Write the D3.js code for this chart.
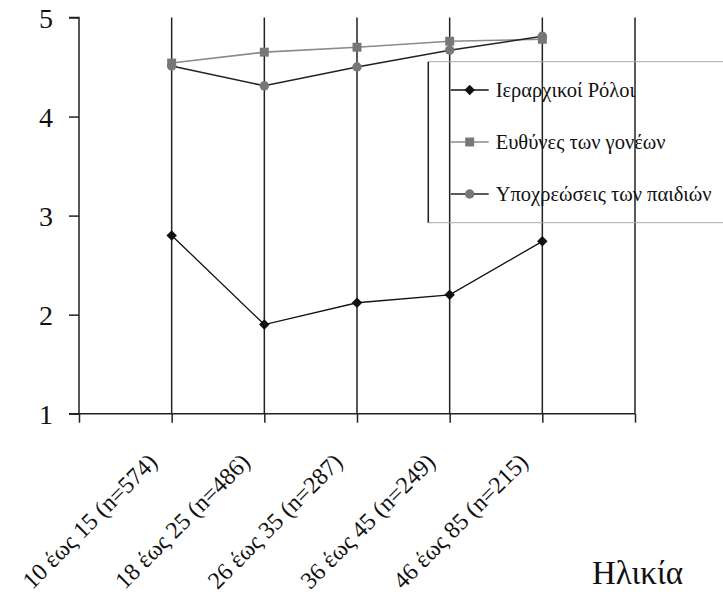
<!DOCTYPE html>
<html>
<head>
<meta charset="utf-8">
<script src="https://cdn.jsdelivr.net/npm/d3@7"></script>
</head>
<body style="margin:0;background:#fff">
<svg id="chart" width="723" height="597" style="display:block"></svg>
<script>
const categories = [
  "10 έως 15 (n=574)",
  "18 έως 25 (n=486)",
  "26 έως 35 (n=287)",
  "36 έως 45 (n=249)",
  "46 έως 85 (n=215)",
];
const hierarchicalRoles = [2.80, 1.90, 2.12, 2.20, 2.74];
const parentDuties = [4.54, 4.65, 4.70, 4.76, 4.78];
const childObligations = [4.51, 4.31, 4.50, 4.67, 4.81];
const yTicks = [1, 2, 3, 4, 5];
const xTitle = "Ηλικία";

const series = [
  { name: "Ιεραρχικοί Ρόλοι", values: hierarchicalRoles, line: "#111", marker: "#111", shape: d3.symbolDiamond2, size: 70, width: 1.3 },
  { name: "Ευθύνες των γονέων", values: parentDuties, line: "#8a8a8a", marker: "#777", shape: d3.symbolSquare, size: 80, width: 1.6 },
  { name: "Υποχρεώσεις των παιδιών", values: childObligations, line: "#222", marker: "#777", shape: d3.symbolCircle, size: 70, width: 1.5 },
];

const FONT = "'Liberation Serif', 'Times New Roman', serif";
const svg = d3.select( "#chart" );
const LEFT = 79;
const RIGHT = 635;
const TOP = 17.5;
const BOTTOM = 413.7;

const x = d3.scaleLinear().domain( [ 0, categories.length + 1 ] ).range( [ LEFT, RIGHT ] );
const y = d3.scaleLinear().domain( [ 1, 5 ] ).range( [ BOTTOM, TOP ] );

// vertical gridlines at each category and at the end
svg.append( "g" )
  .selectAll( "line" )
  .data( d3.range( 1, categories.length + 2 ) )
  .join( "line" )
  .attr( "x1", d => x( d ) )
  .attr( "x2", d => x( d ) )
  .attr( "y1", y( 5 ) )
  .attr( "y2", y( 1 ) )
  .attr( "stroke", "#222" )
  .attr( "stroke-width", 1.5 );

const yAxis = svg.append( "g" )
  .attr( "transform", `translate(${LEFT},0)` )
  .call( d3.axisLeft( y ).tickValues( yTicks ).tickSize( 10 ).tickPadding( 16 ).tickFormat( d3.format( "d" ) ) );
yAxis.attr( "font-family", null ).attr( "font-size", null );
yAxis.select( ".domain" ).attr( "stroke", "#222" ).attr( "stroke-width", 1.5 ).attr( "d", `M-10,${TOP}H0V${BOTTOM}H-10` );
yAxis.selectAll( ".tick line" ).attr( "stroke", "#222" ).attr( "stroke-width", 1.5 );
yAxis.selectAll( ".tick text" )
  .style( "font-family", FONT )
  .style( "font-size", "28px" )
  .attr( "fill", "#111" )
  .attr( "dy", "0.36em" );

const xAxis = svg.append( "g" )
  .attr( "transform", `translate(0,${BOTTOM})` )
  .call( d3.axisBottom( x ).tickValues( d3.range( 0, categories.length + 2 ) ).tickSize( 9 ).tickFormat( "" ) );
xAxis.select( ".domain" ).attr( "stroke", "#222" ).attr( "stroke-width", 1.5 ).attr( "d", `M${LEFT},0H${RIGHT}` );
xAxis.selectAll( ".tick line" ).attr( "stroke", "#222" ).attr( "stroke-width", 1.5 );

// rotated category labels
svg.selectAll( "text.cat" )
  .data( categories )
  .join( "text" )
  .attr( "class", "cat" )
  .attr( "transform", ( d, i ) => `translate(${x( i + 1 ) - 13},${BOTTOM + 50}) rotate(-45)` )
  .attr( "text-anchor", "end" )
  .style( "font-family", FONT )
  .style( "font-size", "24px" )
  .attr( "fill", "#111" )
  .text( d => d );

svg.append( "text" )
  .attr( "x", 592 )
  .attr( "y", 584 )
  .style( "font-family", FONT )
  .style( "font-size", "33px" )
  .attr( "fill", "#111" )
  .text( xTitle );

const line = d3.line()
  .x( ( d, i ) => x( i + 1 ) )
  .y( d => y( d ) );

series.forEach( s => {
  svg.append( "path" )
    .attr( "d", line( s.values ) )
    .attr( "fill", "none" )
    .attr( "stroke", s.line )
    .attr( "stroke-width", s.width );
  svg.append( "g" )
    .selectAll( "path" )
    .data( s.values )
    .join( "path" )
    .attr( "transform", ( d, i ) => `translate(${x( i + 1 )},${y( d )})` )
    .attr( "d", d3.symbol().type( s.shape ).size( s.size ) )
    .attr( "fill", s.marker );
} );

// legend (no background, gridlines show through)
svg.append( "path" )
  .attr( "d", "M723,61.7H428.3V222.7H723" )
  .attr( "fill", "none" )
  .attr( "stroke", "#aaa" )
  .attr( "stroke-width", 1 );
svg.append( "line" )
  .attr( "x1", 428.3 ).attr( "x2", 428.3 )
  .attr( "y1", 61.7 ).attr( "y2", 222.7 )
  .attr( "stroke", "#222" )
  .attr( "stroke-width", 1.5 );

const LEG_X = 450.7;
const legY = i => 90 + i * 52;
svg.selectAll( "line.leg" )
  .data( series )
  .join( "line" )
  .attr( "class", "leg" )
  .attr( "x1", LEG_X ).attr( "x2", LEG_X + 38 )
  .attr( "y1", ( d, i ) => legY( i ) ).attr( "y2", ( d, i ) => legY( i ) )
  .attr( "stroke", d => d.line )
  .attr( "stroke-width", d => d.width );
svg.selectAll( "path.leg" )
  .data( series )
  .join( "path" )
  .attr( "class", "leg" )
  .attr( "transform", ( d, i ) => `translate(${LEG_X + 19},${legY( i )})` )
  .attr( "d", d => d3.symbol().type( d.shape ).size( d.size )() )
  .attr( "fill", d => d.marker );
svg.selectAll( "text.leg" )
  .data( series )
  .join( "text" )
  .attr( "class", "leg" )
  .attr( "x", LEG_X + 45 )
  .attr( "y", ( d, i ) => legY( i ) )
  .attr( "dy", "0.33em" )
  .style( "font-family", FONT )
  .style( "font-size", "20.5px" )
  .attr( "fill", "#111" )
  .text( d => d.name );
</script>
</body>
</html>
